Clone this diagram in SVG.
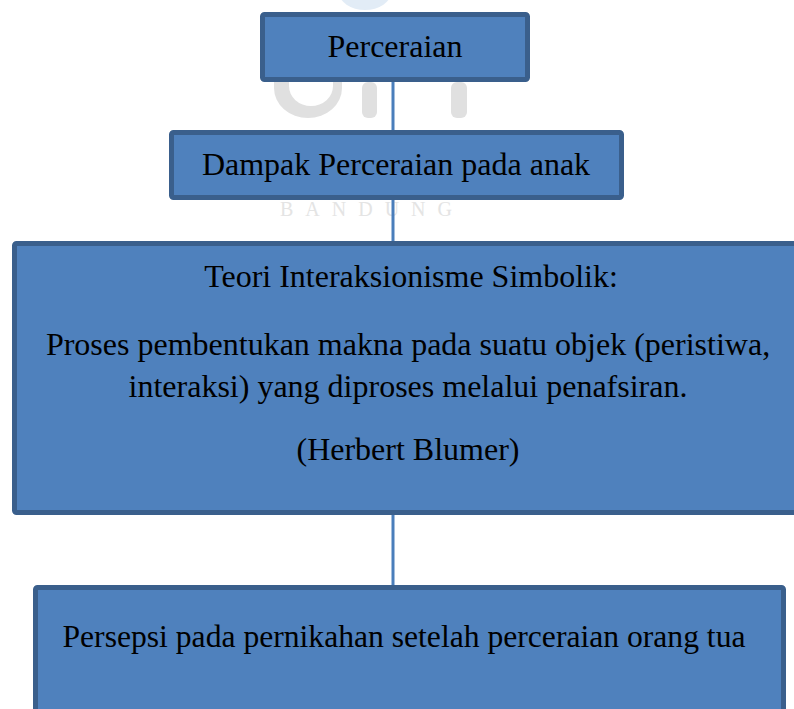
<svg xmlns="http://www.w3.org/2000/svg" width="794" height="709" viewBox="0 0 794 709">
<style>
.box{fill:#4F81BD;stroke:#3A5F8C;stroke-width:5}
.t{font-family:"Liberation Serif","Times New Roman",serif;font-size:32px;fill:#000;text-anchor:middle}
.wm{fill:#e0e0e0}
.conn{stroke:#4A7EBB;stroke-width:3;fill:none}
</style>
<rect width="794" height="709" fill="#fff"/>
<g id="watermark">
<ellipse cx="365" cy="-8" rx="26" ry="18" fill="#e2ecf6"/>
<path class="wm" d="M274 82 h15 v4 a22 20 0 0 0 44 0 v-4 h9 v6 a34 30 0 0 1 -68 0 z"/>
<rect class="wm" x="362" y="82" width="15" height="36" rx="6"/>
<rect class="wm" x="451" y="82" width="16" height="36" rx="6"/>
<text x="372" y="216" font-family="Liberation Serif, serif" font-size="20" fill="#e4e4e4" text-anchor="middle" letter-spacing="12">BANDUNG</text>
</g>
<g id="connectors">
<line class="conn" x1="393" y1="80" x2="393" y2="590"/>
</g>
<g id="n1">
<rect class="box" x="262.5" y="14.5" width="265" height="65" rx="2"/>
<text class="t" x="395" y="57">Perceraian</text>
</g>
<g id="n2">
<rect class="box" x="171.5" y="132.5" width="450" height="65" rx="2"/>
<text class="t" x="396" y="175">Dampak Perceraian pada anak</text>
</g>
<g id="n3">
<rect class="box" x="14.5" y="243.5" width="800" height="269" rx="2"/>
<text class="t" x="411" y="287">Teori Interaksionisme Simbolik:</text>
<text class="t" x="408" y="355">Proses pembentukan makna pada suatu objek (peristiwa,</text>
<text class="t" x="408" y="397">interaksi) yang diproses melalui penafsiran.</text>
<text class="t" x="408" y="460">(Herbert Blumer)</text>
</g>
<g id="n4">
<rect class="box" x="35.5" y="587.5" width="748" height="140" rx="2"/>
<text class="t" x="404" y="647" textLength="683" lengthAdjust="spacingAndGlyphs">Persepsi pada pernikahan setelah perceraian orang tua</text>
</g>
</svg>
